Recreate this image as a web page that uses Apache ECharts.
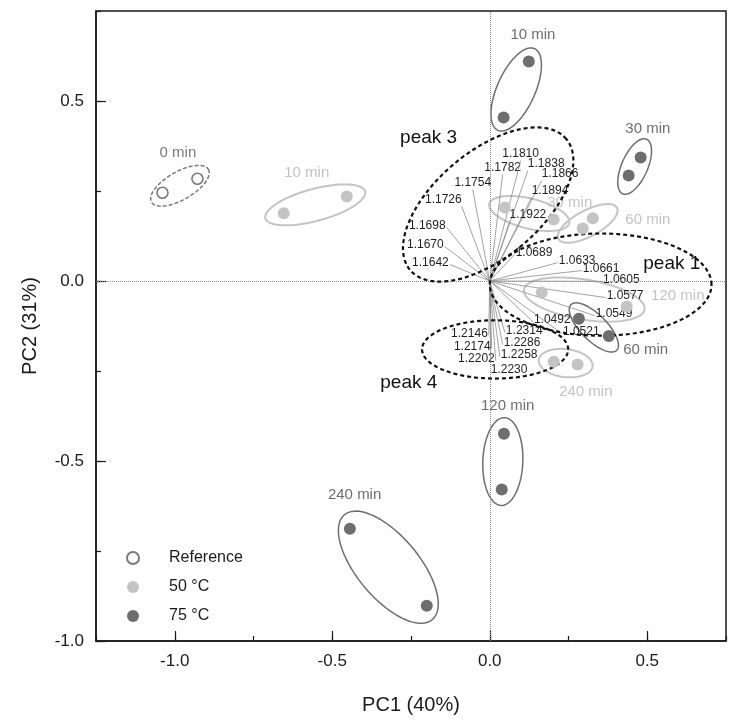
<!DOCTYPE html>
<html><head><meta charset="utf-8">
<script src="https://cdn.jsdelivr.net/npm/echarts@6/dist/echarts.min.js"></script>
<style>html,body{margin:0;padding:0;background:#fff}#c{width:740px;height:725px}</style>
</head><body><div id="c"></div>
<script>
// ---------------- data ----------------
const xTicks = [-1.0, -0.5, 0.0, 0.5];
const yTicks = [-1.0, -0.5, 0.0, 0.5];
const timeLabels = ['10 min', '30 min', '60 min', '120 min', '240 min'];
const refName = '0 min';
const refX = [-1.039, -0.928];
const refY = [0.245, 0.284];
const t50X = [[-0.654, -0.454], [0.048, 0.203], [0.295, 0.327], [0.165, 0.435], [0.203, 0.279]];
const t50Y = [[0.188, 0.235], [0.204, 0.171], [0.146, 0.174], [-0.032, -0.071], [-0.224, -0.232]];
const t75X = [[0.124, 0.044], [0.479, 0.441], [0.283, 0.378], [0.045, 0.038], [-0.444, -0.200]];
const t75Y = [[0.610, 0.454], [0.343, 0.293], [-0.105, -0.153], [-0.424, -0.579], [-0.688, -0.902]];
// group label anchors (data units)
const refLabelX = -0.990, refLabelY = 0.357;
const t50LabelX = [-0.581, 0.254, 0.502, 0.597, 0.305];
const t50LabelY = [0.300, 0.218, 0.171, -0.040, -0.307];
const t75LabelX = [0.137, 0.502, 0.495, 0.057, -0.429];
const t75LabelY = [0.684, 0.424, -0.190, -0.346, -0.593];
// loadings (end points of vectors, data units)
const peak1Names = ['1.0689', '1.0633', '1.0661', '1.0605', '1.0577', '1.0549', '1.0521', '1.0492'];
const peak1X = [0.079, 0.216, 0.292, 0.356, 0.368, 0.333, 0.229, 0.137];
const peak1Y = [0.074, 0.051, 0.029, -0.001, -0.046, -0.096, -0.146, -0.113];
const peak3Names = ['1.1642', '1.1670', '1.1698', '1.1726', '1.1754', '1.1782', '1.1810', '1.1838', '1.1866', '1.1894', '1.1922'];
const peak3X = [-0.127, -0.143, -0.137, -0.089, -0.054, 0.041, 0.098, 0.121, 0.165, 0.133, 0.063];
const peak3Y = [0.046, 0.096, 0.149, 0.207, 0.254, 0.296, 0.334, 0.307, 0.279, 0.232, 0.165];
const peak4Names = ['1.2146', '1.2174', '1.2202', '1.2230', '1.2258', '1.2286', '1.2314'];
const peak4X = [-0.003, 0.006, 0.019, 0.003, 0.032, 0.041, 0.048];
const peak4Y = [-0.151, -0.188, -0.221, -0.226, -0.210, -0.176, -0.143];
// peak regions: centre + two conjugate semi-axes (data units)
const peakNames = ['peak 1', 'peak 3', 'peak 4'];
const peakCX = [0.352, -0.005, 0.017];
const peakCY = [-0.010, 0.2125, -0.190];
const peakUX = [0.352, 0.248, 0.232];
const peakUY = [0.000, 0.182, 0.000];
const peakVX = [0.000, -0.108, 0.000];
const peakVY = [0.142, 0.113, 0.081];
const peakLabelX = [0.578, -0.194, -0.257];
const peakLabelY = [0.049, 0.398, -0.283];

// ---------------- styles ----------------
const FONT = 'Arial, "Liberation Sans", Helvetica, sans-serif';
const C75 = '#6e6e6e', C50 = '#c4c4c4', CREF = '#7a7a7a';
// [padding beyond points (px), semi-minor (px), extra rotation (deg)]
const refEll = [[14, 14, -8]];
const ell50 = [[19, 16, 0], [16, 15, 0], [26, 13, 17], [18, 20, 0], [15, 14, 0]];
const ell75 = [[14, 19, 0], [19, 13, -10], [15, 13, 15], [16, 20, 0], [14, 31, 5]];
const peak1Anchor = peak1Names.map(() => 'R');
const peak3Anchor = ['L', 'L', 'L', 'TR', 'T', 'T', 'T', 'TL', 'TL', 'TL', 'TL'];
const peak4Anchor = ['L', 'L', 'L', 'BL', 'R', 'R', 'R'];

function ellipsePoly(cx, cy, a, b, ang) {
  const pts = [];
  const ca = Math.cos(ang), sa = Math.sin(ang);
  for (let i = 0; i < 96; i++) {
    const t = i / 96 * Math.PI * 2;
    const ex = a * Math.cos(t), ey = b * Math.sin(t);
    pts.push([cx + ex * ca - ey * sa, cy + ex * sa + ey * ca]);
  }
  return pts;
}

function groupEllipseSeries(xs, ys, styles, stroke, width, dash) {
  return {
    type: 'custom', xAxisIndex: 0, yAxisIndex: 0, silent: true, z: 2,
    data: xs.map((x, i) => [x[0], ys[i][0], x[1], ys[i][1]]),
    renderItem: function (params, api) {
      const st = styles[params.dataIndex];
      const p1 = api.coord([api.value(0), api.value(1)]);
      const p2 = api.coord([api.value(2), api.value(3)]);
      const dx = p2[0] - p1[0], dy = p2[1] - p1[1];
      const d = Math.sqrt(dx * dx + dy * dy);
      const ang = Math.atan2(dy, dx) + st[2] * Math.PI / 180;
      const pts = ellipsePoly((p1[0] + p2[0]) / 2, (p1[1] + p2[1]) / 2, d / 2 + st[0], st[1], ang);
      return { type: 'polygon', shape: { points: pts },
        style: { fill: 'none', stroke: stroke, lineWidth: width, lineDash: dash || null } };
    }
  };
}

function loadingSeries(names, xs, ys, anchors) {
  return {
    type: 'custom', xAxisIndex: 0, yAxisIndex: 0, silent: true, z: 3,
    data: xs.map((x, i) => [x, ys[i]]),
    renderItem: function (params, api) {
      const i = params.dataIndex;
      const o = api.coord([0, 0]);
      const e = api.coord([api.value(0), api.value(1)]);
      const an = anchors[i];
      let align = 'center', va = 'middle', tx = e[0], ty = e[1];
      if (an === 'L') { align = 'right'; tx -= 1; ty -= 2; }
      else if (an === 'R') { align = 'left'; tx += 1; ty -= 2; }
      else if (an === 'T') { va = 'bottom'; ty -= 1; }
      else if (an === 'TR') { align = 'right'; va = 'bottom'; ty -= 1; }
      else if (an === 'TL') { align = 'left'; va = 'bottom'; ty -= 1; }
      else if (an === 'BL') { align = 'left'; va = 'top'; ty += 1; }
      return { type: 'group', children: [
        { type: 'line', shape: { x1: o[0], y1: o[1], x2: e[0], y2: e[1] },
          style: { stroke: '#8c8c8c', lineWidth: 0.8 } },
        { type: 'text', style: { text: names[i], x: tx, y: ty, align: align, verticalAlign: va,
          font: '12px ' + FONT, fill: '#1e1e1e' } }
      ] };
    }
  };
}

function textSeries(texts, xs, ys, color, size, z) {
  return {
    type: 'custom', xAxisIndex: 0, yAxisIndex: 0, silent: true, z: z || 4,
    data: xs.map((x, i) => [x, ys[i]]),
    renderItem: function (params, api) {
      const p = api.coord([api.value(0), api.value(1)]);
      return { type: 'text', style: { text: texts[params.dataIndex], x: p[0], y: p[1],
        align: 'center', verticalAlign: 'middle', font: size + 'px ' + FONT, fill: color } };
    }
  };
}

const peakSeries = {
  type: 'custom', xAxisIndex: 0, yAxisIndex: 0, silent: true, z: 5,
  data: peakCX.map((c, i) => [c, peakCY[i], peakUX[i], peakUY[i], peakVX[i], peakVY[i]]),
  renderItem: function (params, api) {
    const cx = api.value(0), cy = api.value(1), ux = api.value(2), uy = api.value(3), vx = api.value(4), vy = api.value(5);
    const pts = [];
    for (let k = 0; k < 120; k++) {
      const t = k / 120 * Math.PI * 2;
      pts.push(api.coord([cx + ux * Math.cos(t) + vx * Math.sin(t), cy + uy * Math.cos(t) + vy * Math.sin(t)]));
    }
    return { type: 'polygon', shape: { points: pts },
      style: { fill: 'none', stroke: '#111', lineWidth: 2.2, lineDash: [4, 3] } };
  }
};

const flat = (xs, ys) => { const r = []; xs.forEach((x, i) => { r.push([x[0], ys[i][0]]); r.push([x[1], ys[i][1]]); }); return r; };
const isTick = (arr, v) => arr.some(t => Math.abs(t - v) < 1e-9);

const axisCommon = {
  type: 'value', interval: 0.25,
  axisLine: { show: true, onZero: false, lineStyle: { color: '#1a1a1a', width: 1.5 } },
  axisTick: { show: true, inside: true, length: 5, lineStyle: { color: '#1a1a1a', width: 1.2 } },
  axisLabel: { fontSize: 17, color: '#1a1a1a', fontFamily: FONT, margin: 12 },
  splitLine: { show: false }
};

const chart = echarts.init(document.getElementById('c'), null, { renderer: 'canvas' });
chart.setOption({
  animation: false,
  backgroundColor: '#fff',
  textStyle: { fontFamily: FONT },
  grid: { left: 96, right: 14, top: 11, bottom: 84, show: true, borderColor: '#1a1a1a', borderWidth: 1.5, backgroundColor: 'transparent' },
  xAxis: [
    Object.assign({}, axisCommon, {
      min: -1.25, max: 0.75, position: 'bottom',
      axisLabel: Object.assign({}, axisCommon.axisLabel, { formatter: v => isTick(xTicks, v) ? v.toFixed(1) : '' }),
      name: 'PC1 (40%)', nameLocation: 'middle', nameGap: 54,
      nameTextStyle: { fontSize: 20, color: '#1a1a1a', fontFamily: FONT }
    }),
    { type: 'value', min: -1.25, max: 0.75, position: 'bottom',
      axisLine: { show: false, onZero: false }, axisLabel: { show: false }, splitLine: { show: false },
      axisTick: { show: true, inside: true, length: 10, customValues: xTicks, lineStyle: { color: '#1a1a1a', width: 1.2 } } }
  ],
  yAxis: [
    Object.assign({}, axisCommon, {
      min: -1.0, max: 0.75, position: 'left',
      axisLabel: Object.assign({}, axisCommon.axisLabel, { formatter: v => isTick(yTicks, v) ? v.toFixed(1) : '' }),
      name: 'PC2 (31%)', nameLocation: 'middle', nameGap: 56, nameRotate: 90,
      nameTextStyle: { fontSize: 20, color: '#1a1a1a', fontFamily: FONT }
    }),
    { type: 'value', min: -1.0, max: 0.75, position: 'left',
      axisLine: { show: false, onZero: false }, axisLabel: { show: false }, splitLine: { show: false },
      axisTick: { show: true, inside: true, length: 10, customValues: yTicks, lineStyle: { color: '#1a1a1a', width: 1.2 } } }
  ],
  legend: {
    data: ['Reference', '50 °C', '75 °C'], orient: 'vertical', left: 126, top: 550,
    itemWidth: 62, itemHeight: 12, itemGap: 13, padding: 0, icon: 'circle',
    textStyle: { fontSize: 16, color: '#1a1a1a', fontFamily: FONT, lineHeight: 12 }
  },
  series: [
    { type: 'line', xAxisIndex: 0, yAxisIndex: 0, data: [], silent: true,
      markLine: { silent: true, symbol: ['none', 'none'], label: { show: false },
        lineStyle: { type: 'dotted', color: '#8a8a8a', width: 1 },
        data: [{ xAxis: 0 }, { yAxis: 0 }] } },
    groupEllipseSeries([refX], [refY], refEll, CREF, 1.5, [4, 2]),
    groupEllipseSeries(t50X, t50Y, ell50, C50, 2),
    groupEllipseSeries(t75X, t75Y, ell75, C75, 1.5),
    loadingSeries(peak1Names, peak1X, peak1Y, peak1Anchor),
    loadingSeries(peak3Names, peak3X, peak3Y, peak3Anchor),
    loadingSeries(peak4Names, peak4X, peak4Y, peak4Anchor),
    peakSeries,
    textSeries(peakNames, peakLabelX, peakLabelY, '#111', 19, 6),
    textSeries([refName], [refLabelX], [refLabelY], CREF, 15),
    textSeries(timeLabels, t50LabelX, t50LabelY, C50, 15),
    textSeries(timeLabels, t75LabelX, t75LabelY, C75, 15),
    { name: 'Reference', type: 'scatter', xAxisIndex: 0, yAxisIndex: 0, z: 7, symbol: 'circle', symbolSize: 11,
      itemStyle: { color: '#fff', borderColor: CREF, borderWidth: 1.6, opacity: 1 },
      data: refX.map((x, i) => [x, refY[i]]) },
    { name: '50 °C', type: 'scatter', xAxisIndex: 0, yAxisIndex: 0, z: 7, symbol: 'circle', symbolSize: 12,
      itemStyle: { color: C50, opacity: 1 }, data: flat(t50X, t50Y) },
    { name: '75 °C', type: 'scatter', xAxisIndex: 0, yAxisIndex: 0, z: 7, symbol: 'circle', symbolSize: 12,
      itemStyle: { color: C75, opacity: 1 }, data: flat(t75X, t75Y) }
  ]
});
</script></body></html>
